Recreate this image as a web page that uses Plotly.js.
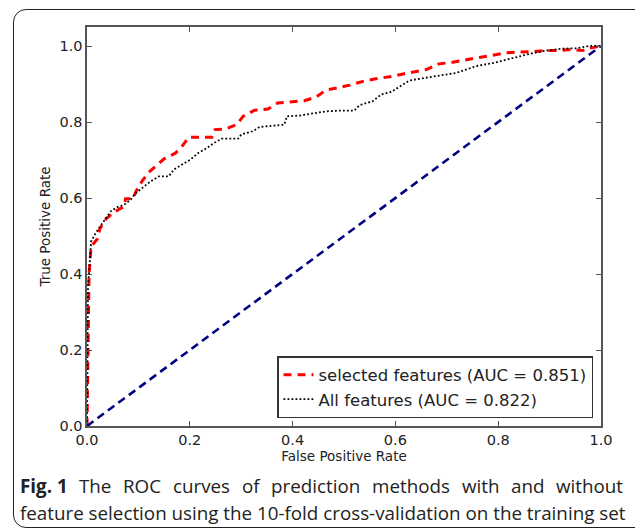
<!DOCTYPE html>
<html>
<head>
<meta charset="utf-8">
<script src="https://cdn.plot.ly/plotly-3.0.1.min.js"></script>
<style>
  html, body { margin: 0; padding: 0; background: #fff; overflow: hidden; }
  #wrap { position: relative; width: 635px; height: 532px; overflow: hidden; }
  #frame { position: absolute; left: 13px; top: 9px; width: 660px; height: 519px;
           border: 1.8px solid #222; border-radius: 13px; box-sizing: border-box; }
  #chart { position: absolute; left: 0; top: 0; width: 635px; height: 532px; }
</style>
</head>
<body>
<div id="wrap">
  <div id="frame"></div>
  <div id="chart"></div>
</div>
<script>
// Selected features ROC (AUC = 0.851)
const selFpr = [0, 0.003, 0.004, 0.006, 0.008, 0.02, 0.025, 0.037, 0.052, 0.072, 0.075, 0.09, 0.095, 0.107, 0.119, 0.135, 0.15, 0.172, 0.186, 0.198, 0.243, 0.249, 0.271, 0.291, 0.304, 0.326, 0.352, 0.371, 0.397, 0.423, 0.446, 0.465, 0.488, 0.511, 0.537, 0.562, 0.594, 0.617, 0.660, 0.685, 0.711, 0.737, 0.763, 0.786, 0.815, 0.841, 0.867, 0.893, 0.918, 0.944, 0.964, 0.977, 0.993, 1];
const selTpr = [0, 0.30, 0.40, 0.437, 0.472, 0.492, 0.519, 0.545, 0.562, 0.578, 0.598, 0.598, 0.617, 0.644, 0.666, 0.685, 0.703, 0.718, 0.738, 0.760, 0.760, 0.78, 0.782, 0.793, 0.815, 0.831, 0.834, 0.850, 0.853, 0.856, 0.866, 0.884, 0.890, 0.897, 0.907, 0.914, 0.920, 0.927, 0.938, 0.953, 0.957, 0.964, 0.970, 0.975, 0.982, 0.984, 0.985, 0.988, 0.988, 0.991, 0.988, 0.994, 0.997, 1];

// All features ROC (AUC = 0.822)
const allFpr = [0, 0.002, 0.004, 0.006, 0.008, 0.017, 0.027, 0.036, 0.046, 0.059, 0.072, 0.085, 0.095, 0.107, 0.124, 0.140, 0.159, 0.169, 0.185, 0.201, 0.217, 0.234, 0.245, 0.262, 0.294, 0.300, 0.323, 0.336, 0.384, 0.389, 0.414, 0.440, 0.465, 0.491, 0.520, 0.530, 0.556, 0.572, 0.592, 0.608, 0.627, 0.666, 0.718, 0.757, 0.796, 0.834, 0.860, 0.893, 0.925, 0.951, 0.977, 1];
const allTpr = [0, 0.37, 0.403, 0.456, 0.486, 0.508, 0.528, 0.547, 0.565, 0.576, 0.582, 0.596, 0.613, 0.626, 0.644, 0.657, 0.657, 0.675, 0.688, 0.701, 0.719, 0.732, 0.743, 0.756, 0.756, 0.767, 0.776, 0.787, 0.793, 0.815, 0.817, 0.822, 0.828, 0.830, 0.830, 0.844, 0.855, 0.872, 0.879, 0.893, 0.909, 0.918, 0.929, 0.947, 0.957, 0.970, 0.979, 0.988, 0.993, 0.994, 1.0, 1];

// Chance diagonal
const diagX = [0, 1];
const diagY = [0, 1];

const seriesNames = ['selected features (AUC = 0.851)', 'All features (AUC = 0.822)'];
const tickVals = [0, 0.2, 0.4, 0.6, 0.8, 1.0];
const tickText = ['0.0', '0.2', '0.4', '0.6', '0.8', '1.0'];
const xTitle = 'False Positive Rate';
const yTitle = 'True Positive Rate';
const captionBold = 'Fig. 1';
const captionLine1 = 'The ROC curves of prediction methods with and without';
const captionLine2 = 'feature selection using the 10-fold cross-validation on the training set';

const traces = [
  { x: selFpr, y: selTpr, type: 'scatter', mode: 'lines', name: seriesNames[0],
    line: { color: '#ff0000', width: 3, dash: '8px,6px' } },
  { x: allFpr, y: allTpr, type: 'scatter', mode: 'lines', name: seriesNames[1],
    line: { color: '#000000', width: 1.8, dash: '1.8px,2.2px' } },
  { x: diagX, y: diagY, type: 'scatter', mode: 'lines', showlegend: false,
    line: { color: '#000080', width: 2.6, dash: '8px,5px' } }
];

// ---- plot geometry (pixels) ----
const W = 635, H = 532, ML = 87, MR = 34, MT = 27, MB = 106;
const PW = W - ML - MR, PH = H - MT - MB;
const px2paperX = px => (px - ML) / PW;
const px2paperY = py => (H - MB - py) / PH;

// ---- caption with justified first line ----
const capFont = 'Open Sans';
const capSize = 18.8;
const capColor = '#222';
const capLeft = 18, capRight = 621;
const ctx = document.createElement('canvas').getContext('2d');
function measure(word, bold) {
  ctx.font = (bold ? 'bold ' : '') + capSize + 'px "' + capFont + '"';
  return ctx.measureText(word).width;
}
const words = [{ w: captionBold, b: true }]
  .concat(captionLine1.split(' ').map(w => ({ w, b: false })));
const widths = words.map(o => measure(o.w, o.b));
const totalW = widths.reduce((a, b) => a + b, 0);
const gap = (capRight - capLeft - totalW) / (words.length - 1);
const annotations = [];
let cx = capLeft;
words.forEach((o, i) => {
  annotations.push({
    text: o.b ? '<b>' + o.w + '</b>' : o.w,
    xref: 'paper', yref: 'paper', x: px2paperX(cx), xanchor: 'left',
    y: px2paperY(486), yanchor: 'middle', showarrow: false,
    font: { family: capFont, size: capSize, color: capColor }
  });
  cx += widths[i] + gap;
});
annotations.push({
  text: captionLine2, xref: 'paper', yref: 'paper', x: px2paperX(capLeft), xanchor: 'left',
  y: px2paperY(513), yanchor: 'middle', showarrow: false,
  font: { family: capFont, size: capSize, color: capColor }
});

const axisCommon = {
  showline: true, mirror: 'ticks', linecolor: '#555', linewidth: 1.6,
  ticks: 'inside', ticklen: 5, tickwidth: 1, tickcolor: '#555',
  showgrid: false, zeroline: false,
  tickfont: { family: 'DejaVu Sans', size: 14.5, color: '#222' },
  tickvals: tickVals, ticktext: tickText
};

const layout = {
  width: W, height: H,
  margin: { l: ML, r: MR, t: MT, b: MB },
  paper_bgcolor: 'rgba(0,0,0,0)', plot_bgcolor: '#fff',
  showlegend: true,
  xaxis: Object.assign({}, axisCommon, {
    range: [0, 1],
    title: { text: xTitle, font: { family: 'DejaVu Sans', size: 13.5, color: '#222' }, standoff: 4 }
  }),
  yaxis: Object.assign({}, axisCommon, {
    range: [0, 1.05],
    title: { text: yTitle, font: { family: 'DejaVu Sans', size: 13.5, color: '#222' }, standoff: 6 }
  }),
  legend: {
    x: px2paperX(593), xanchor: 'right', y: px2paperY(418), yanchor: 'bottom',
    bgcolor: '#fff', bordercolor: '#333', borderwidth: 1.5,
    font: { family: 'DejaVu Sans', size: 16.5, color: '#222' },
    itemwidth: 30, tracegroupgap: 0
  },
  annotations: annotations
};

Plotly.newPlot('chart', traces, layout, { staticPlot: true, displayModeBar: false });
</script>
</body>
</html>
